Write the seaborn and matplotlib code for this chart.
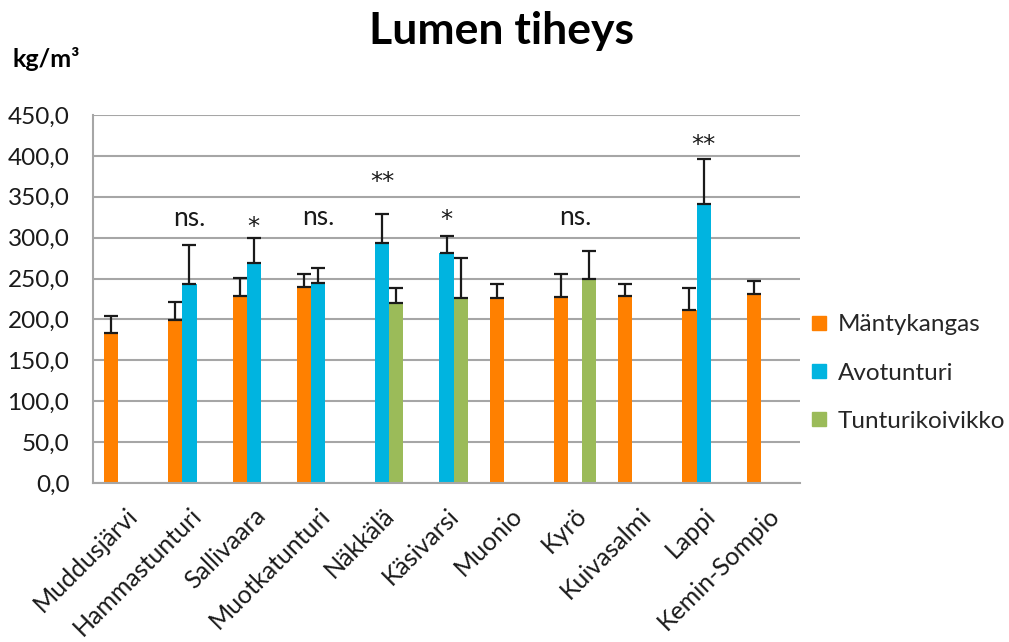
import numpy as np
import pandas as pd
import matplotlib
matplotlib.use("Agg")
import matplotlib.pyplot as plt
from matplotlib.ticker import FuncFormatter, MultipleLocator
from matplotlib.lines import Line2D
import seaborn as sns

categories = ["Muddusjärvi", "Hammastunturi", "Sallivaara", "Muotkatunturi", "Näkkälä",
              "Käsivarsi", "Muonio", "Kyrö", "Kuivasalmi", "Lappi", "Kemin-Sompio"]
series = ["Mäntykangas", "Avotunturi", "Tunturikoivikko"]
nan = np.nan
mantykangas = [184, 199, 229, 240, nan, nan, 226, 228, 229, 212, 231]
mantykangas_err = [20, 22, 22, 15, nan, nan, 17, 27, 14, 27, 16]
avotunturi = [nan, 243, 269, 244, 294, 281, nan, nan, nan, 341, nan]
avotunturi_err = [nan, 48, 31, 19, 35, 21, nan, nan, nan, 55, nan]
tunturikoivikko = [nan, nan, nan, nan, 220, 226, nan, 249, nan, nan, nan]
tunturikoivikko_err = [nan, nan, nan, nan, 18, 49, nan, 35, nan, nan, nan]
annotations = ["", "ns.", "*", "ns.", "**", "*", "", "ns.", "", "**", ""]
annotation_y = [nan, 314, 305, 315, 360, 313, nan, 315, nan, 405, nan]
colors = ["#FF8000", "#00B4E0", "#9BBB59"]

values = [mantykangas, avotunturi, tunturikoivikko]
errors = [mantykangas_err, avotunturi_err, tunturikoivikko_err]

rows = []
for s, vals in zip(series, values):
    for c, v in zip(categories, vals):
        rows.append({"Alue": c, "Tyyppi": s, "Tiheys": v})
df = pd.DataFrame(rows).dropna()

sns.set_theme(style="white")
plt.rcParams["font.family"] = ["Lato", "DejaVu Sans"]

fig = plt.figure(figsize=(10.09, 6.42), dpi=100)
ax = fig.add_axes([0.0922, 0.2477, 0.7007, 0.5732])

group_width = 0.66
sns.barplot(data=df, x="Alue", y="Tiheys", hue="Tyyppi", order=categories,
            hue_order=series, palette=colors, errorbar=None, width=group_width,
            saturation=1, ax=ax, legend=False, linewidth=0)

bar_w = group_width / len(series)
for patch in list(ax.patches):
    if patch is None:
        continue
    h = patch.get_height()
    if np.isnan(h) or h <= 0:
        continue
    xc = patch.get_x() + patch.get_width() / 2
    ci = int(round(xc))
    hi = int(round((xc - ci) / bar_w)) + 1
    e = errors[hi][ci]
    if np.isnan(e):
        continue
    ax.errorbar(xc, h, yerr=[[0], [e]], fmt="none", ecolor="#1a1a1a",
                elinewidth=1.6, capsize=5, capthick=1.6, zorder=3)

for i, (txt, yv) in enumerate(zip(annotations, annotation_y)):
    if not txt:
        continue
    if "*" in txt:
        ax.text(i, yv, txt, ha="center", va="baseline", fontsize=17.5,
                color="#1a1a1a", family="DejaVu Sans")
    else:
        ax.text(i, yv, txt, ha="center", va="baseline", fontsize=19,
                color="#1a1a1a")

ax.set_ylim(0, 450)
ax.set_xlim(-0.5, len(categories) - 0.5)
ax.yaxis.set_major_locator(MultipleLocator(50))
ax.yaxis.set_major_formatter(FuncFormatter(lambda v, p: f"{v:.1f}".replace(".", ",")))
ax.grid(axis="y", color="#A6A6A6", linewidth=1.5)
ax.set_axisbelow(True)
for side in ["top", "right"]:
    ax.spines[side].set_visible(False)
for side in ["left", "bottom"]:
    ax.spines[side].set_color("#A6A6A6")
    ax.spines[side].set_linewidth(1.5)
ax.set_xlabel("")
ax.set_ylabel("")
ax.tick_params(axis="y", labelsize=17.5, colors="#1a1a1a", length=0, pad=17)
ax.tick_params(axis="x", labelsize=18, colors="#1a1a1a", length=0, pad=15)
plt.setp(ax.get_xticklabels(), rotation=45, ha="right", rotation_mode="anchor")

handles = [Line2D([0], [0], marker="s", linestyle="none", markersize=10.5,
                  markerfacecolor=c, markeredgecolor=c) for c in colors]
fig.legend(handles, series, loc="center left", bbox_to_anchor=(0.8, 0.419),
           frameon=False, fontsize=17.5, handletextpad=0.25, labelspacing=1.12,
           handlelength=1.0, borderaxespad=0, borderpad=0)

fig.text(0.497, 0.952, "Lumen tiheys", ha="center", va="center",
         fontsize=32, fontweight="bold", color="black")
fig.text(0.012, 0.908, "kg/m³", ha="left", va="center", fontsize=18,
         fontweight="bold", color="black")

fig.savefig("out.png", dpi=100)
